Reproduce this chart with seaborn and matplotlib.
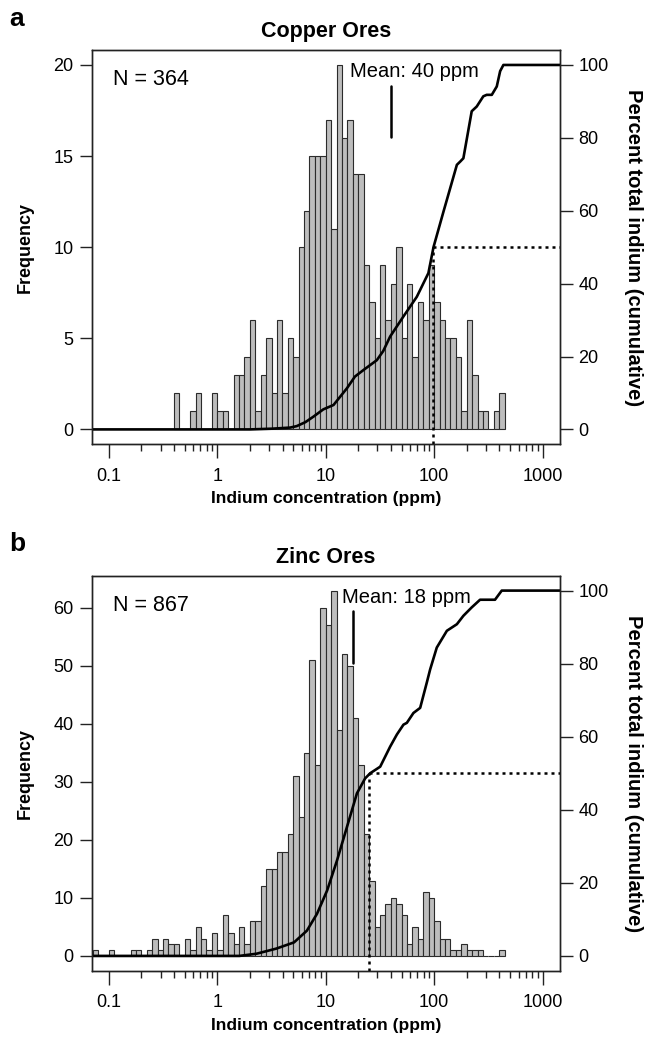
import numpy as np
import matplotlib
matplotlib.use("Agg")
import matplotlib.pyplot as plt
from matplotlib.ticker import FixedLocator, FixedFormatter, NullFormatter
import seaborn as sns

# ---------------------------------------------------------------- data
# Histogram bins are equal steps in log10(ppm); counts start at the first edge.
log_bin_width = 0.05

cu_log_start = -0.40
cu_counts = [2, 0, 0, 1, 2, 0, 0, 2, 1, 1, 0, 3, 3, 4, 6, 1, 3, 5, 2, 6,
             2, 5, 4, 10, 12, 15, 15, 15, 17, 11, 20, 16, 17, 14, 14, 9, 7, 5, 9, 6,
             8, 10, 5, 8, 4, 7, 6, 9, 7, 6, 5, 5, 4, 1, 6, 3, 1, 1, 0, 1, 2]

zn_log_start = -1.15
zn_counts = [1, 0, 0, 1, 0, 0, 0, 1, 1, 0, 1, 3, 1, 3, 2, 2, 0, 3, 1, 5,
             3, 1, 4, 1, 7, 4, 2, 5, 2, 6, 6, 12, 15, 15, 18, 18, 21, 31, 24, 35,
             51, 33, 60, 57, 63, 39, 52, 50, 41, 33, 21, 13, 5, 7, 9, 10, 9, 7, 2, 5,
             3, 11, 10, 6, 3, 3, 1, 1, 2, 1, 1, 1, 0, 0, 0, 1]

# Cumulative share of total indium (percent) against concentration (ppm)
cu_cum_ppm = [0.07, 2.0, 3.2, 4.7, 5.4, 6.5, 7.7, 9.5, 11.8, 15.7, 18.6, 22.3,
              29.6, 33.9, 39.3, 52.1, 69.2, 88.5, 98.6, 122, 131, 162, 174, 186,
              222, 247, 284, 305, 340, 378, 406, 435, 1445]
cu_cum_pct = [0, 0, 0.2, 0.5, 0.9, 2.0, 3.5, 5.5, 6.7, 11.3, 14.5, 16.3,
              19.0, 21.5, 25.5, 31.0, 36.4, 42.9, 50.0, 59.8, 63.0, 72.6, 73.5, 74.4,
              87.3, 88.6, 91.4, 91.8, 91.8, 94.1, 98.3, 100, 100]

zn_cum_ppm = [0.07, 1.6, 2.3, 3.5, 5.1, 6.7, 8.3, 10.3, 12.7, 15.7, 19.4, 23.1,
              25.7, 31.8, 39.3, 45.3, 52.1, 56.0, 64.4, 74.3, 85.5, 91.8, 105.7,
              131, 162, 186, 222, 265, 364, 420, 1445]
zn_cum_pct = [0, 0, 0.6, 2.0, 3.7, 6.9, 11.5, 17.9, 26.1, 35.3, 44.5, 48.6,
              50.0, 51.8, 57.3, 60.6, 63.3, 63.8, 66.5, 67.9, 74.8, 78.4, 84.4,
              89.0, 90.8, 93.1, 95.4, 97.5, 97.5, 100, 100]

# Concentration at which half of the total indium is reached, and the means
cu_half_ppm, zn_half_ppm = 98.6, 25.3
half_pct = 50
cu_mean_ppm, zn_mean_ppm = 40, 18
cu_n, zn_n = 364, 867

x_major = [0.1, 1, 10, 100, 1000]
x_major_labels = ["0.1", "1", "10", "100", "1000"]
pct_ticks = [0, 20, 40, 60, 80, 100]

# ---------------------------------------------------------------- style
sns.set_theme(style="ticks")
plt.rcParams["font.family"] = ["Liberation Sans", "DejaVu Sans"]
plt.rcParams.update({
    "axes.edgecolor": "#222222",
    "axes.linewidth": 1.0,
    "text.color": "black",
    "axes.labelcolor": "black",
    "xtick.color": "#222222",
    "ytick.color": "#222222",
    "xtick.labelcolor": "black",
    "ytick.labelcolor": "black",
})

BAR_FILL = "#bdbdbd"
BAR_EDGE = "#2b2b2b"
XLIM = (10 ** -1.16, 10 ** 3.165)
PCT_LIM = (-4, 104)
TICK_FS = 13

fig = plt.figure(figsize=(6.55, 10.41), dpi=100)
ax_a = fig.add_axes([0.1397, 0.5735, 0.716, 0.3781])
ax_b = fig.add_axes([0.1397, 0.0677, 0.716, 0.3790])

minor_ticks = [k * 10.0 ** d for d in range(-1, 3) for k in range(2, 10)]


def draw_panel(ax, log_start, counts, cum_ppm, cum_pct, half_ppm, mean_ppm,
               n_obs, title, letter, yticks, mean_text_ppm):
    n = len(counts)
    centers = 10 ** (log_start + (np.arange(n) + 0.5) * log_bin_width)
    sns.histplot(x=centers, weights=counts, bins=n,
                 binrange=(log_start, log_start + n * log_bin_width),
                 log_scale=True, ax=ax, color=BAR_FILL, edgecolor=BAR_EDGE,
                 linewidth=0.8, alpha=1.0)
    ymax = max(counts)
    ax.set_ylim(-0.04 * ymax, 1.04 * ymax)
    ax.set_xlim(*XLIM)

    ax.xaxis.set_major_locator(FixedLocator(x_major))
    ax.xaxis.set_major_formatter(FixedFormatter(x_major_labels))
    ax.xaxis.set_minor_locator(FixedLocator(minor_ticks))
    ax.xaxis.set_minor_formatter(NullFormatter())
    ax.set_yticks(yticks)
    ax.tick_params(axis="x", which="major", direction="out", length=10,
                   width=1, labelsize=TICK_FS, pad=7)
    ax.tick_params(axis="x", which="minor", direction="out", length=5,
                   width=1)
    ax.tick_params(axis="y", direction="out", length=9, width=1,
                   labelsize=TICK_FS, pad=4)

    ax.set_xlabel("Indium concentration (ppm)", fontsize=12.5,
                  fontweight="bold", va="center")
    ax.xaxis.set_label_coords(0.5, -0.139)
    ax.set_ylabel("Frequency", fontsize=13, fontweight="bold", va="center")
    ax.yaxis.set_label_coords(-0.142, 0.5)

    # cumulative percentage on the secondary axis
    ax2 = ax.twinx()
    ax2.set_ylim(*PCT_LIM)
    sns.lineplot(x=cum_ppm, y=cum_pct, ax=ax2, color="black",
                 linewidth=1.9, estimator=None)
    ax2.plot([half_ppm, half_ppm], [PCT_LIM[0], half_pct], color="black",
             linestyle=(0, (1.2, 1.6)), linewidth=1.8)
    ax2.plot([half_ppm, XLIM[1]], [half_pct, half_pct], color="black",
             linestyle=(0, (1.2, 1.6)), linewidth=1.8)
    ax2.set_yticks(pct_ticks)
    ax2.tick_params(axis="y", direction="out", length=9, width=1,
                    labelsize=TICK_FS, pad=4)
    ax2.set_ylabel("Percent total indium (cumulative)", fontsize=14.5,
                   fontweight="bold", rotation=270, va="center")
    ax2.yaxis.set_label_coords(1.155, 0.5)
    ax2.set_xlim(*XLIM)

    # mean marker and annotations
    xt = ax.get_xaxis_transform()
    ax.plot([mean_ppm, mean_ppm], [0.78, 0.91], transform=xt,
            color="black", linewidth=1.8)
    ax.text(mean_text_ppm, 0.946, f"Mean: {mean_ppm} ppm", transform=xt,
            ha="left", va="center", fontsize=14.5)
    ax.text(0.045, 0.925, f"N = {n_obs}", transform=ax.transAxes,
            ha="left", va="center", fontsize=15.5)
    ax.text(0.5, 1.047, title, transform=ax.transAxes, ha="center",
            va="center", fontsize=15.5, fontweight="bold")
    ax.text(-0.175, 1.08, letter, transform=ax.transAxes, ha="left",
            va="center", fontsize=19, fontweight="bold")
    return ax2


draw_panel(ax_a, cu_log_start, cu_counts, cu_cum_ppm, cu_cum_pct,
           cu_half_ppm, cu_mean_ppm, cu_n, "Copper Ores", "a",
           [0, 5, 10, 15, 20], 16.8)
draw_panel(ax_b, zn_log_start, zn_counts, zn_cum_ppm, zn_cum_pct,
           zn_half_ppm, zn_mean_ppm, zn_n, "Zinc Ores", "b",
           [0, 10, 20, 30, 40, 50, 60], 14.1)

fig.savefig("out.png", dpi=100)
